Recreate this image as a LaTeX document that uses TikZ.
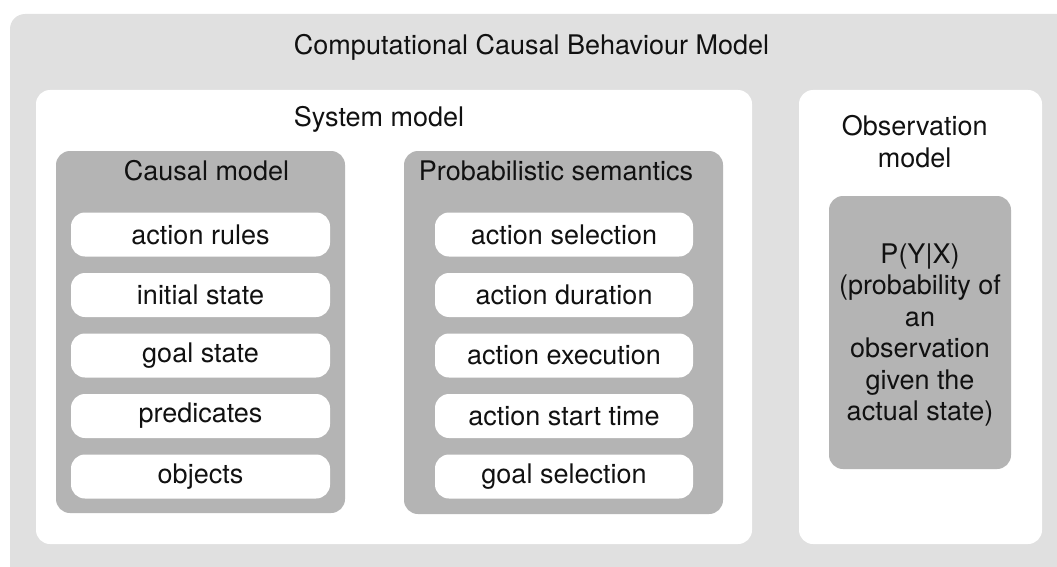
\documentclass[tikz,border=0pt]{standalone}
\usepackage{fontspec}
\setmainfont{TeX Gyre Heros}
\definecolor{outergrey}{HTML}{E0E0E0}
\definecolor{midgrey}{HTML}{B4B4B4}
\definecolor{txt}{HTML}{111111}
\begin{document}
\begin{tikzpicture}[x=1pt,y=-1pt,
  box/.style={rounded corners=14pt, inner sep=0pt, outer sep=0pt, anchor=center},
  whitebox/.style={box, fill=white},
  greybox/.style={box, fill=midgrey},
  lbl/.style={font=\fontsize{27}{31.4}\selectfont, text=txt, inner sep=0pt, align=center},
  item/.style={whitebox, lbl, minimum height=44pt}
]
\useasboundingbox (0,0) rectangle (1057,567);
\clip (0,0) rectangle (1057,567);
% outer container
\node[box, fill=outergrey, rounded corners=15pt, anchor=north west,
      minimum width=1080pt, minimum height=600pt] (outer) at (10,14) {};
\node[lbl, anchor=base] (title) at (531.5,55) {Computational Causal Behaviour Model};
% system model
\node[whitebox, minimum width=716pt, minimum height=454pt] (sys) at (394,317) {};
\node[lbl, anchor=base] (systitle) at (379,126.7) {System model};
% causal model
\node[greybox, minimum width=289pt, minimum height=362pt] (causal) at (200.5,332) {};
\node[lbl, anchor=base] (causaltitle) at (206.5,180) {Causal model};
\node[item, minimum width=259pt] (c1) at (200.5,234.5) {action rules};
\node[item, minimum width=259pt] (c2) at (200.5,295) {initial state};
\node[item, minimum width=259pt] (c3) at (200.5,355.5) {goal state};
\node[item, minimum width=259pt] (c4) at (200.5,416) {predicates};
\node[item, minimum width=259pt] (c5) at (200.5,476.5) {objects};
% probabilistic semantics
\node[greybox, minimum width=319pt, minimum height=363pt] (prob) at (563.5,332.5) {};
\node[lbl, anchor=base] (probtitle) at (556,180) {Probabilistic semantics};
\node[item, minimum width=258pt] (p1) at (564,234.5) {action selection};
\node[item, minimum width=258pt] (p2) at (564,295) {action duration};
\node[item, minimum width=258pt] (p3) at (564,355.5) {action execution};
\node[item, minimum width=258pt] (p4) at (564,416) {action start time};
\node[item, minimum width=258pt] (p5) at (564,476.5) {goal selection};
% observation model
\node[whitebox, minimum width=243pt, minimum height=454pt] (obs) at (920.5,317) {};
\node[lbl] (obstitle) at (914.7,141.5) {Observation\\model};
\node[greybox, minimum width=182pt, minimum height=273pt] (obsbox) at (920,332.5) {};
\node[lbl] (obstext) at (920,335) {P(Y|X)\\(probability of\\an\\observation\\given the\\actual state)};
\end{tikzpicture}
\end{document}
